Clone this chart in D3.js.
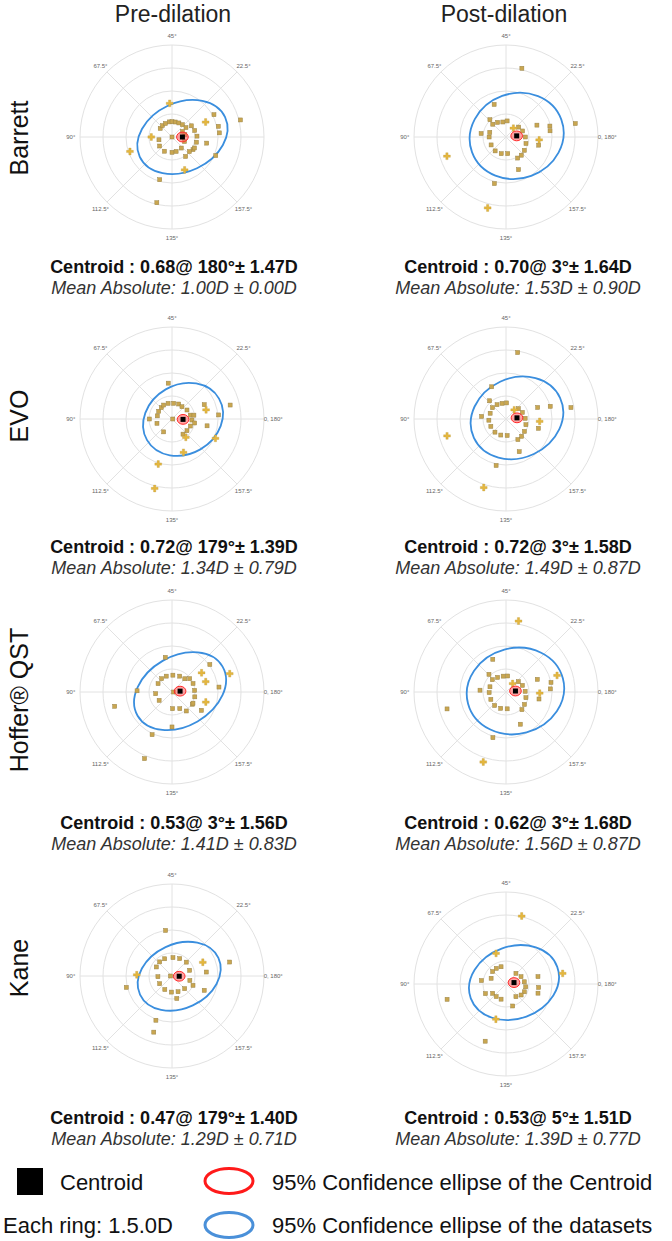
<!DOCTYPE html>
<html>
<head>
<meta charset="utf-8">
<script src="https://cdn.jsdelivr.net/npm/d3@7"></script>
<style>
body{margin:0;background:#fff}
svg{display:block;font-family:"Liberation Sans",Arial,sans-serif}
</style>
</head>
<body>
<svg id="chart" width="672" height="1241"></svg>
<script>
// column / row names
var phases = ["Pre-dilation", "Post-dilation"];
var formulas = ["Barrett", "EVO", "Hoffer® QST", "Kane"];

// polar grid: rings in D, axis ticks in degrees (double-angle plot)
var ringSteps = [1.5, 3.0, 4.5, 6.0];
var axisTicks = [0, 22.5, 45, 67.5, 90, 112.5, 135, 157.5];
var axisLabels = ["0, 180°", "22.5°", "45°", "67.5°", "90°", "112.5°", "135°", "157.5°"];

// summary stats [pre, post] x [Barrett, EVO, Hoffer, Kane]
var centroidMag = [[0.68, 0.72, 0.53, 0.47], [0.70, 0.72, 0.62, 0.53]];
var centroidAxis = [[180, 179, 3, 179], [3, 3, 3, 5]];
var centroidSD = [[1.47, 1.39, 1.56, 1.40], [1.64, 1.58, 1.68, 1.51]];
var meanAbs = [[1.00, 1.34, 1.41, 1.29], [1.53, 1.49, 1.56, 1.39]];
var meanAbsSD = [[0.00, 0.79, 0.83, 0.71], [0.90, 0.87, 0.87, 0.77]];

// 95% ellipse of the datasets (semi axes in D, tilt in deg)
var spreadA = [[3.07, 2.71, 3.2, 2.82], [3.1, 3.1, 3.2, 3.0]];
var spreadB = [[2.25, 2.26, 2.28, 2.1], [2.77, 2.6, 2.8, 2.36]];
var spreadTilt = [[25, 30, 30, 25], [20, 25, 15, 20]];
// 95% ellipse of the centroid
var ciA = 0.38, ciB = 0.32;

// individual eyes: [magnitude D, axis deg]
var preBarrettSq = [[3.1,14],[4.6,7],[3.1,6.5],[3.1,2.5],[2.3,175],[3.1,168.5],[0.87,96],[0,0],[1.0,135],[1.55,152.5],[1.6,164.5],[2.9,127],[4.4,128.5],
  [0.95,72],[0.97,65],[0.98,58],[1.0,50],[1.0,45],[1.0,39],[1.02,32],[1.05,25],[1.1,17],
  [0.77,14],[0.85,5],[0.87,170],[0.94,155],[0.98,143],
  [1.46,15],[1.54,8],[1.63,1],[1.63,174],[1.63,167],[1.48,160],[1.0,108],[1.05,121]];
var preBarrettCr = [[2.2,47],[2.4,12],[1.35,90],[2.9,99.5],[2.3,145.5]];

var postBarrettSq = [[4.6,38.5],[2.26,55],[1.54,66.5],[2.16,10.5],[2.95,7],[2.9,4],[4.6,5.5],[2.2,173],[1.64,86],[2.28,145.5],[3.13,128],
  [1.2,68],[1.1,60],[1.0,51],[1.05,43],[1.1,82],[1.1,90],[1.1,104],[1.15,116],[1.13,127],[1.09,138],
  [1.05,19],[1.15,10],[1.26,0],[1.37,171],[1.48,162],[1.55,155],[1.57,149.5]];
var postBarrettCr = [[2.17,177.5],[4.05,99],[4.78,127.75],[0.75,25]];

var preEvoSq = [[2.35,48],[3.9,6.75],[2.3,12],[3.05,2.5],[2.33,174.5],[1.48,90],[1.0,118.5],[0.05,0],
  [1.02,66.5],[1.06,60.5],[1.05,52],[1.03,42],[1.07,33],[1.02,98],[0.98,84],[1.0,75],
  [1.03,25.5],[1.14,15.5],[1.22,6],[1.3,178.5],[1.28,169.5],[1.24,161],[1.22,153],[1.45,5],[1.5,175]];
var preEvoCr = [[2.3,7.5],[3.1,168],[1.5,153.5],[2.3,144.5],[3.07,126.5],[4.67,128]];

var postEvoSq = [[4.4,40],[2.3,57],[1.6,66],[2.2,10],[3.0,8],[4.3,5],[2.2,172],[1.6,87],[2.3,146],[3.1,129],
  [1.15,70],[1.1,61],[1.05,52],[1.05,44],[1.1,80],[1.12,92],[1.1,103],[1.12,115],[1.1,126],[1.08,137],
  [1.05,20],[1.15,11],[1.25,1],[1.35,172],[1.45,163],[1.52,156],[1.55,150]];
var postEvoCr = [[2.2,178],[4.0,98],[4.7,126],[0.8,24]];

var preHofferSq = [[2.3,50.5],[3.05,18],[3.08,3],[2.26,164],[1.55,153.5],[1.55,164.5],[2.28,89],[3.85,97],[2.28,135],[3.07,122.5],[4.7,123.8],[0.1,0],
  [1.06,74.5],[1.1,64],[1.1,55],[1.1,43.5],[1.15,32],[1.2,23],[1.07,93],[1.0,106.5],[1.09,136],[1.2,147.5],
  [1.44,18.5],[1.48,11],[1.48,2],[1.52,174],[1.55,166]];
var preHofferCr = [[2.3,16.5],[3.95,8.8],[2.3,8.5],[2.3,171.75]];

var postHofferSq = [[2.3,56],[1.6,67],[2.2,11],[3.0,6],[2.9,2],[2.2,174],[1.7,88],[2.3,147],[3.1,127],[4.0,98],
  [1.2,69],[1.1,60],[1.05,50],[1.05,42],[1.1,81],[1.1,91],[1.1,103],[1.15,115],[1.12,126],[1.1,137],
  [1.05,20],[1.15,11],[1.25,1],[1.35,172],[1.45,163],[1.55,156]];
var postHofferCr = [[4.7,40],[3.5,9],[2.2,179],[4.8,126],[0.7,26]];

var preKaneSq = [[3.0,49],[3.87,6.8],[2.25,3.3],[2.3,168],[3.07,97],[1.5,141],[3.07,125],[3.85,126],[1.5,168],[0.1,90],
  [1.18,75],[0.92,91.5],[0.95,106],[1.0,121],[1.05,134],[1.1,145.5],[1.17,157.5],[1.2,173],[1.21,9],[1.3,22],[1.24,33],[1.2,43.5],[1.22,56.5],[1.22,65.5]];
var preKaneCr = [[2.2,12],[2.3,89]];

var postKaneSq = [[2.14,6.5],[2.14,177],[2.17,172],[3.97,97.3],[1.62,86],[3.97,125],[1.5,143.5],[1.48,102.5],
  [1.04,79.5],[1.19,68.5],[1.2,61],[1.17,53],[1.06,107.5],[1.04,116],[1.04,126],
  [0.95,23.5],[1.09,13],[1.2,3.5],[1.3,176],[1.3,168.5],[1.22,162],[1.05,154]];
var postKaneCr = [[3.76,5.3],[2.39,127],[4.55,38.5],[2.1,54]];

var squares = [[preBarrettSq, preEvoSq, preHofferSq, preKaneSq], [postBarrettSq, postEvoSq, postHofferSq, postKaneSq]];
var crosses = [[preBarrettCr, preEvoCr, preHofferCr, preKaneCr], [postBarrettCr, postEvoCr, postHofferCr, postKaneCr]];

// layout
var colX = [172, 506];
var rowY = [[137, 419, 692, 976], [137, 419, 692, 984]];
var textX = [174, 518];
var textY = [267, 547, 823, 1118];
var labelY = [138, 416, 700, 968];

var svg = d3.select("#chart");
var r = d3.scaleLinear().domain([0, 6]).range([0, 92]);

function pos(m, axis) {
  var a = axis * 2 * Math.PI / 180;
  return [r(m) * Math.cos(a), -r(m) * Math.sin(a)];
}

phases.forEach(function(p, i) {
  svg.append("text").attr("x", i == 0 ? 173 : 504).attr("y", 22)
    .attr("text-anchor", "middle").style("font-size", "23px").attr("fill", "#222").text(p);
});

formulas.forEach(function(f, j) {
  svg.append("text").attr("transform", "translate(28," + labelY[j] + ") rotate(-90)")
    .attr("text-anchor", "middle").style("font-size", "25px").attr("fill", "#111").text(f);
});

function drawPanel(i, j) {
  var g = svg.append("g").attr("transform", "translate(" + colX[i] + "," + rowY[i][j] + ")");

  g.selectAll(".ring").data(ringSteps).enter().append("circle")
    .attr("r", function(d) { return r(d); })
    .attr("fill", "none").attr("stroke", "#e2e2e2").attr("stroke-width", 1);

  g.selectAll(".spoke").data(axisTicks).enter().append("line")
    .attr("x1", 0).attr("y1", 0)
    .attr("x2", function(d) { return pos(6, d)[0]; })
    .attr("y2", function(d) { return pos(6, d)[1]; })
    .attr("stroke", "#e2e2e2").attr("stroke-width", 1);

  axisTicks.forEach(function(t, k) {
    if (i == 0 && j == 0 && t == 0) return; // missing in the original panel
    var p = pos(6.6, t);
    g.append("text").attr("x", p[0]).attr("y", p[1])
      .attr("text-anchor", "middle").attr("dy", "0.35em")
      .style("font-size", "6px").attr("fill", "#666").text(axisLabels[k]);
  });

  var c = pos(centroidMag[i][j], centroidAxis[i][j]);

  g.append("ellipse")
    .attr("transform", "translate(" + c[0] + "," + c[1] + ") rotate(" + (-spreadTilt[i][j]) + ")")
    .attr("rx", r(spreadA[i][j])).attr("ry", r(spreadB[i][j]))
    .attr("fill", "none").attr("stroke", "#3a8ede").attr("stroke-width", 1.8);

  g.selectAll(".sq").data(squares[i][j]).enter().append("rect")
    .attr("x", function(d) { return pos(d[0], d[1])[0] - 2; })
    .attr("y", function(d) { return pos(d[0], d[1])[1] - 2; })
    .attr("width", 4).attr("height", 4)
    .attr("fill", "#c9a650").attr("stroke", "#9a8448").attr("stroke-width", 0.5);

  g.selectAll(".cr").data(crosses[i][j]).enter().append("path")
    .attr("d", d3.symbol(d3.symbolCross).size(26))
    .attr("transform", function(d) { var p = pos(d[0], d[1]); return "translate(" + p[0] + "," + p[1] + ")"; })
    .attr("fill", "#e5b73e").attr("stroke", "#b8953a").attr("stroke-width", 0.3);

  g.append("ellipse").attr("cx", c[0]).attr("cy", c[1])
    .attr("rx", r(ciA)).attr("ry", r(ciB))
    .attr("fill", "rgba(255,90,90,0.55)").attr("stroke", "#ff2a2a").attr("stroke-width", 1);

  g.append("rect").attr("x", c[0] - 2.5).attr("y", c[1] - 2.5)
    .attr("width", 5).attr("height", 5).attr("fill", "#000");

  svg.append("text").attr("x", textX[i]).attr("y", textY[j]).attr("dy", "0.35em")
    .attr("text-anchor", "middle").style("font-size", "18px").style("font-weight", "bold").attr("fill", "#111")
    .text("Centroid : " + centroidMag[i][j].toFixed(2) + "@ " + centroidAxis[i][j] + "°± " + centroidSD[i][j].toFixed(2) + "D");

  svg.append("text").attr("x", textX[i]).attr("y", textY[j] + 21).attr("dy", "0.35em")
    .attr("text-anchor", "middle").style("font-size", "18px").style("font-style", "italic").attr("fill", "#333")
    .text("Mean Absolute: " + meanAbs[i][j].toFixed(2) + "D ± " + meanAbsSD[i][j].toFixed(2) + "D");
}

for (var i = 0; i < 2; i++) {
  for (var j = 0; j < 4; j++) drawPanel(i, j);
}

// legend
var legend = svg.append("g");
legend.append("rect").attr("x", 17).attr("y", 1168).attr("width", 26).attr("height", 27).attr("fill", "#000");
legend.append("text").attr("x", 60).attr("y", 1182).attr("dy", "0.35em").style("font-size", "22px").attr("fill", "#111").text("Centroid");
legend.append("text").attr("x", 3).attr("y", 1225).attr("dy", "0.35em").style("font-size", "22px").attr("fill", "#111").text("Each ring: 1.5.0D");
legend.append("ellipse").attr("cx", 229).attr("cy", 1181).attr("rx", 24).attr("ry", 12.5)
  .attr("fill", "none").attr("stroke", "#ff1a1a").attr("stroke-width", 3);
legend.append("ellipse").attr("cx", 229).attr("cy", 1225).attr("rx", 24).attr("ry", 12.5)
  .attr("fill", "none").attr("stroke", "#4a90d9").attr("stroke-width", 3);
legend.append("text").attr("x", 272).attr("y", 1182).attr("dy", "0.35em").style("font-size", "22px").attr("fill", "#111").text("95% Confidence ellipse of the Centroid");
legend.append("text").attr("x", 272).attr("y", 1225).attr("dy", "0.35em").style("font-size", "22px").attr("fill", "#111").text("95% Confidence ellipse of the datasets");
</script>
</body>
</html>
